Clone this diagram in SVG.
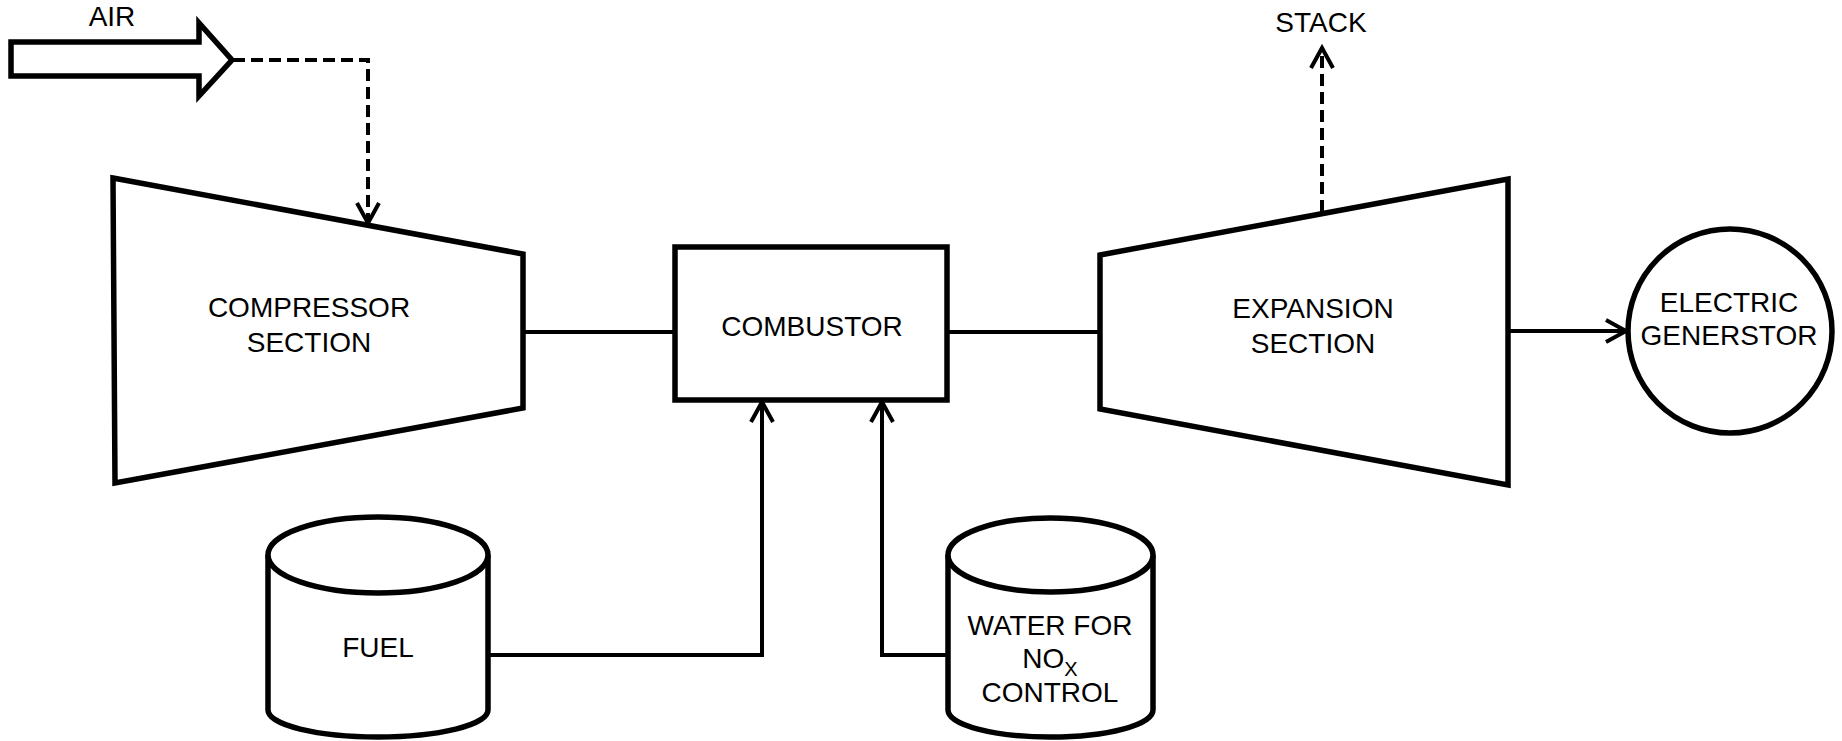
<svg xmlns="http://www.w3.org/2000/svg" width="1842" height="741" viewBox="0 0 1842 741">
<style>
.shape{fill:#fff;stroke:#000;stroke-width:5.5;stroke-linejoin:miter}
.conn{fill:none;stroke:#000;stroke-width:4}
.dash{stroke-dasharray:12 6}
text{font-family:"Liberation Sans",Arial,sans-serif;font-size:28px;fill:#000;text-anchor:middle}
</style>
<defs>
<marker id="chev" markerUnits="userSpaceOnUse" markerWidth="30" markerHeight="30" refX="22" refY="12" orient="auto" overflow="visible">
<path d="M2,1 L22,12 L2,23" fill="none" stroke="#000" stroke-width="4"/>
</marker>
</defs>
<rect width="1842" height="741" fill="#fff"/>
<g id="air">
<polygon class="shape" points="11,42 199,42 199,23 232,60 199,96 199,76 11,76"/>
<text x="112" y="26">AIR</text>
</g>
<g id="compressor">
<polygon class="shape" points="113,178 523,254 523,408 115,483"/>
<text x="309" y="317">COMPRESSOR</text>
<text x="309" y="352">SECTION</text>
</g>
<g id="combustor">
<rect class="shape" x="675" y="247" width="272" height="153"/>
<text x="812" y="336">COMBUSTOR</text>
</g>
<g id="expansion">
<polygon class="shape" points="1100,255 1508,179 1508,485 1100,409"/>
<text x="1313" y="318">EXPANSION</text>
<text x="1313" y="353">SECTION</text>
</g>
<g id="stack">
<text x="1321" y="32">STACK</text>
</g>
<g id="generator">
<circle class="shape" cx="1730" cy="331" r="102"/>
<text x="1729" y="312">ELECTRIC</text>
<text x="1729" y="345">GENERSTOR</text>
</g>
<g id="fuel">
<path class="shape" d="M268,555 V710 A110,27 0 0 0 488,710 V555"/>
<ellipse class="shape" cx="378" cy="555" rx="110" ry="38"/>
<text x="378" y="657">FUEL</text>
</g>
<g id="water">
<path class="shape" d="M948,555 V710 A102.5,27 0 0 0 1153,710 V555"/>
<ellipse class="shape" cx="1050.5" cy="555" rx="102.5" ry="37"/>
<text x="1050" y="635">WATER FOR</text>
<text x="1050" y="668">NO<tspan font-size="20" dy="8">X</tspan></text>
<text x="1050" y="702">CONTROL</text>
</g>
<g id="connectors">
<path class="conn dash" d="M233,60 H368 V223" marker-end="url(#chev)"/>
<path class="conn dash" d="M1322,212 V48" marker-end="url(#chev)"/>
<path class="conn" d="M525,332 H673"/>
<path class="conn" d="M949,332 H1098"/>
<path class="conn" d="M1510,331 H1626" marker-end="url(#chev)"/>
<path class="conn" d="M490,655 H762 V402" marker-end="url(#chev)"/>
<path class="conn" d="M946,655 H882 V402" marker-end="url(#chev)"/>
</g>
</svg>
